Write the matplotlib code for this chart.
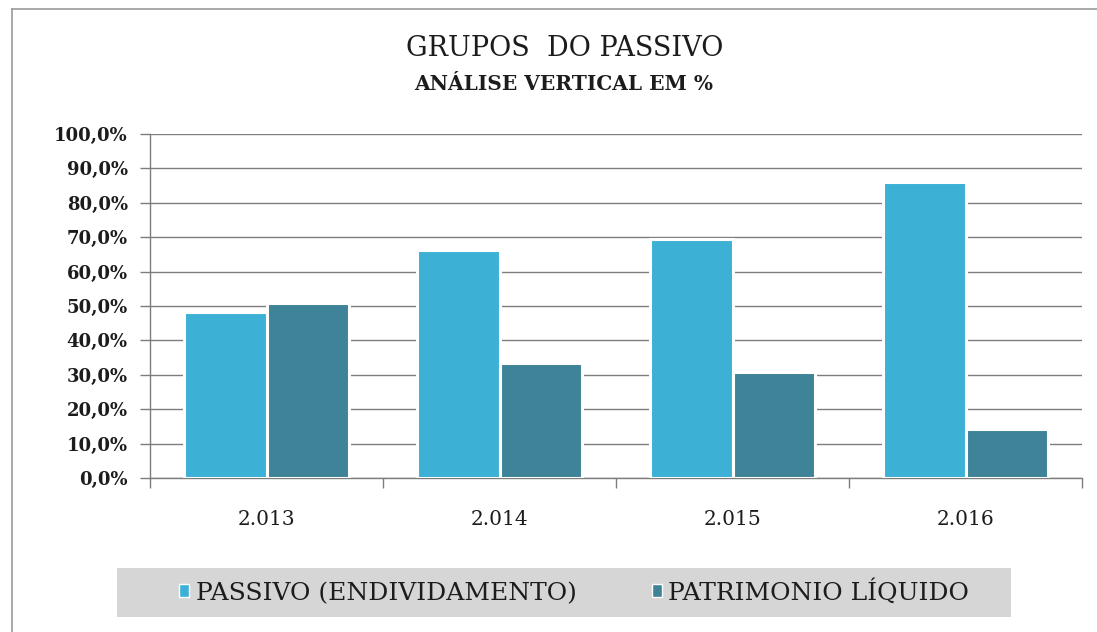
import matplotlib
matplotlib.use("Agg")
import matplotlib.pyplot as plt
from matplotlib.lines import Line2D
from matplotlib.patches import Rectangle
from matplotlib.ticker import FuncFormatter, FixedLocator
import numpy as np

categories = ["2.013", "2.014", "2.015", "2.016"]
passivo = [48.2, 66.4, 69.6, 86.1]
patrimonio = [51.0, 33.3, 30.9, 14.2]
series_names = ["PASSIVO (ENDIVIDAMENTO)", "PATRIMONIO LÍQUIDO"]
title = "GRUPOS  DO PASSIVO"
subtitle = "ANÁLISE VERTICAL EM %"

c_pass = "#3DB0D6"
c_pat = "#3F8399"
txt = "#1c1c1c"
grid_c = "#7d7d7d"

plt.rcParams['font.family'] = ['DejaVu Serif']

W, H = 1097, 632
fig = plt.figure(figsize=(W / 100, H / 100), dpi=100)
fig.patch.set_facecolor("white")

ax = fig.add_axes([150 / W, 1 - 478 / H, (1082 - 150) / W, (478 - 134) / H])
x = np.arange(len(categories))
w = 0.356
off = 0.178
b1 = ax.bar(x - off, passivo, w, color=c_pass, edgecolor="white", linewidth=2.2,
            label=series_names[0], zorder=3)
b2 = ax.bar(x + off, patrimonio, w, color=c_pat, edgecolor="white", linewidth=2.2,
            label=series_names[1], zorder=3)

ax.set_xlim(-0.5, len(categories) - 0.5)
ax.set_ylim(0, 100)
ax.set_yticks(np.arange(0, 101, 10))
ax.yaxis.set_major_formatter(FuncFormatter(lambda v, p: f"{v:.1f}".replace(".", ",") + "%"))
ax.yaxis.grid(True, color=grid_c, linewidth=1.0, zorder=0)
ax.set_axisbelow(True)

ax.set_xticks(x)
ax.set_xticklabels(categories)
ax.xaxis.set_minor_locator(FixedLocator(np.arange(-0.5, len(categories), 1.0)))
ax.tick_params(axis="x", which="major", length=0, pad=23, labelsize=14.5, labelcolor=txt)
ax.tick_params(axis="x", which="minor", length=7, color=grid_c, width=1)
ax.tick_params(axis="y", which="major", length=7, color=grid_c, width=1, pad=9,
               labelsize=13, labelcolor=txt)

for s in ["top", "right"]:
    ax.spines[s].set_visible(False)
for s in ["left", "bottom"]:
    ax.spines[s].set_color(grid_c)
    ax.spines[s].set_linewidth(1.0)

for lab in ax.get_yticklabels():
    lab.set_fontweight("semibold")

fig.text(565 / W, 1 - 49 / H, title, ha="center", va="center", fontsize=19.5, color=txt)
fig.text(564 / W, 1 - 84 / H, subtitle, ha="center", va="center", fontsize=14.5,
         fontweight="bold", color=txt)

# legend background
fig.add_artist(Rectangle((117 / W, 1 - 617 / H), (1011 - 117) / W, (617 - 568) / H,
                         transform=fig.transFigure, facecolor="#D6D6D6", edgecolor="none",
                         zorder=0))
leg = fig.legend(handles=[b1, b2], labels=series_names, loc="center",
                 bbox_to_anchor=(574 / W, 1 - 592 / H), ncol=2, frameon=False,
                 fontsize=18, handlelength=0.42, handleheight=0.42,
                 handletextpad=0.25, columnspacing=3.0, labelcolor=txt)
for h in leg.legend_handles:
    h.set_linewidth(1.0)

# outer frame (scanned chart border)
fig.add_artist(Line2D([12 / W, 1], [1 - 9 / H, 1 - 9 / H], transform=fig.transFigure,
                      color="#9a9a9a", linewidth=1.2))
fig.add_artist(Line2D([12 / W, 12 / W], [0, 1 - 9 / H], transform=fig.transFigure,
                      color="#9a9a9a", linewidth=1.2))

fig.savefig("out.png", dpi=100, facecolor="white")
